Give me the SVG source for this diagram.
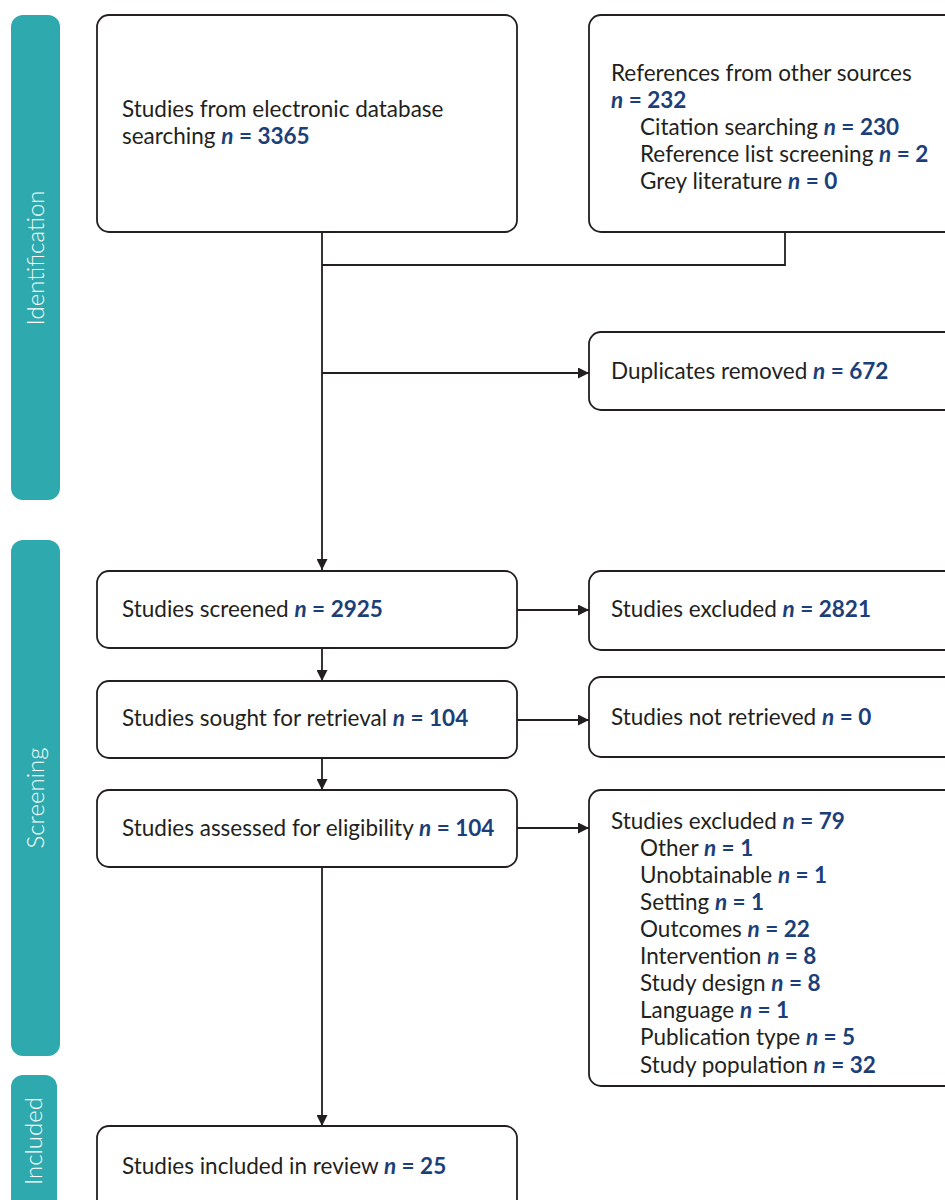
<svg xmlns="http://www.w3.org/2000/svg" width="945" height="1200" viewBox="0 0 945 1200">
<style>
.bar{fill:#2EA9AE}
.bt{fill:#fff;font-family:Lato,"Liberation Sans",sans-serif;font-weight:300;font-size:24px;text-anchor:middle}
.box{fill:#fff;stroke:#231F20;stroke-width:1.8}
.t{fill:#231F20;font-family:Lato,"Liberation Sans",sans-serif;font-size:22.5px}
.n{fill:#1B4079;font-weight:bold}
.i{font-style:italic}
.c{fill:none;stroke:#231F20;stroke-width:1.8}
</style>
<defs>
<marker id="ah" viewBox="0 0 10 10" refX="10" refY="5" markerWidth="11" markerHeight="11" markerUnits="userSpaceOnUse" orient="auto"><path d="M0,0 L10,5 L0,10 z" fill="#231F20"/></marker>
</defs>
<g id="phases">
<g id="bar-identification"><rect class="bar" x="11" y="15" width="49" height="485" rx="12"/><text class="bt" transform="translate(44,258) rotate(-90)">Identification</text></g>
<g id="bar-screening"><rect class="bar" x="11" y="540" width="49" height="516" rx="12"/><text class="bt" transform="translate(44,798) rotate(-90)">Screening</text></g>
<g id="bar-included"><rect class="bar" x="11" y="1075" width="46" height="140" rx="12"/><text class="bt" transform="translate(42,1141) rotate(-90)">Included</text></g>
</g>
<g id="connectors">
<path class="c" d="M322,232 V570" marker-end="url(#ah)"/>
<path class="c" d="M785,232 V265 H322"/>
<path class="c" d="M322,373 H589" marker-end="url(#ah)"/>
<path class="c" d="M517,610 H589" marker-end="url(#ah)"/>
<path class="c" d="M322,648 V681" marker-end="url(#ah)"/>
<path class="c" d="M517,720 H589" marker-end="url(#ah)"/>
<path class="c" d="M322,758 V790" marker-end="url(#ah)"/>
<path class="c" d="M517,828 H589" marker-end="url(#ah)"/>
<path class="c" d="M322,867 V1126" marker-end="url(#ah)"/>
</g>
<g id="node-database"><rect class="box" x="97" y="15" width="420" height="217" rx="12"/>
<text class="t" x="122" y="117">Studies from electronic database</text>
<text class="t" x="122" y="144">searching <tspan class="n i">n</tspan><tspan class="n"> = 3365</tspan></text></g>
<g id="node-other"><rect class="box" x="589" y="15" width="370" height="217" rx="12"/>
<text class="t" x="611" y="81">References from other sources</text>
<text class="t" x="611" y="108"><tspan class="n i">n</tspan><tspan class="n"> = 232</tspan></text>
<text class="t" x="640" y="135">Citation searching <tspan class="n i">n</tspan><tspan class="n"> = 230</tspan></text>
<text class="t" x="640" y="162">Reference list screening <tspan class="n i">n</tspan><tspan class="n"> = 2</tspan></text>
<text class="t" x="640" y="189">Grey literature <tspan class="n i">n</tspan><tspan class="n"> = 0</tspan></text></g>
<g id="node-duplicates"><rect class="box" x="589" y="332" width="370" height="78" rx="12"/>
<text class="t" x="611" y="379">Duplicates removed <tspan class="n i">n</tspan><tspan class="n"> = 672</tspan></text></g>
<g id="node-screened"><rect class="box" x="97" y="571" width="420" height="77" rx="12"/>
<text class="t" x="122" y="617">Studies screened <tspan class="n i">n</tspan><tspan class="n"> = 2925</tspan></text></g>
<g id="node-excluded1"><rect class="box" x="589" y="571" width="370" height="79" rx="12"/>
<text class="t" x="611" y="617">Studies excluded <tspan class="n i">n</tspan><tspan class="n"> = 2821</tspan></text></g>
<g id="node-sought"><rect class="box" x="97" y="681" width="420" height="77" rx="12"/>
<text class="t" x="122" y="726">Studies sought for retrieval <tspan class="n i">n</tspan><tspan class="n"> = 104</tspan></text></g>
<g id="node-notretrieved"><rect class="box" x="589" y="677" width="370" height="80" rx="12"/>
<text class="t" x="611" y="725">Studies not retrieved <tspan class="n i">n</tspan><tspan class="n"> = 0</tspan></text></g>
<g id="node-assessed"><rect class="box" x="97" y="790" width="420" height="77" rx="12"/>
<text class="t" x="122" y="836">Studies assessed for eligibility <tspan class="n i">n</tspan><tspan class="n"> = 104</tspan></text></g>
<g id="node-excluded2"><rect class="box" x="589" y="790" width="370" height="296" rx="12"/>
<text class="t" x="611" y="829">Studies excluded <tspan class="n i">n</tspan><tspan class="n"> = 79</tspan></text>
<text class="t" x="640" y="856">Other <tspan class="n i">n</tspan><tspan class="n"> = 1</tspan></text>
<text class="t" x="640" y="883">Unobtainable <tspan class="n i">n</tspan><tspan class="n"> = 1</tspan></text>
<text class="t" x="640" y="910">Setting <tspan class="n i">n</tspan><tspan class="n"> = 1</tspan></text>
<text class="t" x="640" y="937">Outcomes <tspan class="n i">n</tspan><tspan class="n"> = 22</tspan></text>
<text class="t" x="640" y="964">Intervention <tspan class="n i">n</tspan><tspan class="n"> = 8</tspan></text>
<text class="t" x="640" y="991">Study design <tspan class="n i">n</tspan><tspan class="n"> = 8</tspan></text>
<text class="t" x="640" y="1018">Language <tspan class="n i">n</tspan><tspan class="n"> = 1</tspan></text>
<text class="t" x="640" y="1045">Publication type <tspan class="n i">n</tspan><tspan class="n"> = 5</tspan></text>
<text class="t" x="640" y="1073">Study population <tspan class="n i">n</tspan><tspan class="n"> = 32</tspan></text></g>
<g id="node-included"><rect class="box" x="97" y="1126" width="420" height="90" rx="12"/>
<text class="t" x="122" y="1174">Studies included in review <tspan class="n i">n</tspan><tspan class="n"> = 25</tspan></text></g>
</svg>
